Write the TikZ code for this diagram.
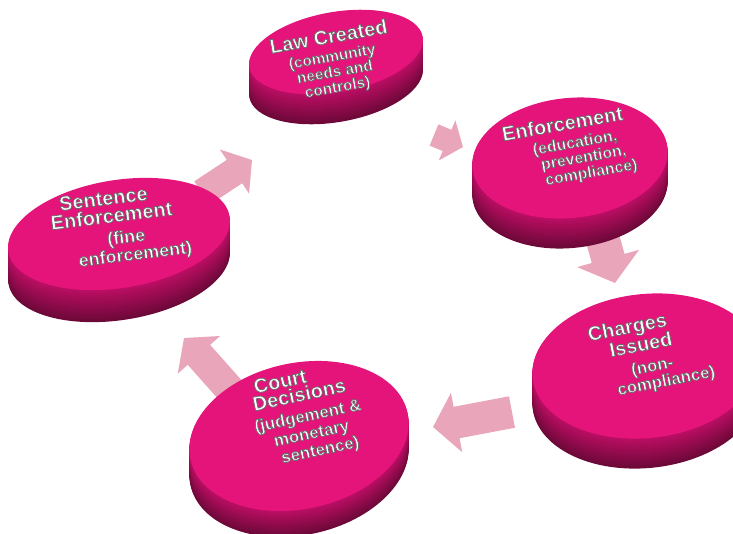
\documentclass[tikz,border=0pt]{standalone}
\usepackage{fontspec}
\setmainfont{Liberation Sans}
\usetikzlibrary{arrows.meta}

\definecolor{disctop}{RGB}{228,20,123}
\definecolor{discside}{RGB}{188,14,100}
\definecolor{discdark}{RGB}{108,8,56}
\definecolor{flowpink}{RGB}{233,165,186}

\pgfdeclarelayer{back}
\pgfsetlayers{back,main}

% white lettering with a grey rim (fill and stroke text mode)
\newcommand{\relief}[1]{\special{pdf:code q 2 Tr 0.75 w 1 j 0.42 G}#1\special{pdf:code Q}}
\newcommand{\headsize}{\fontsize{20}{20}\selectfont}

\begin{document}
\begin{tikzpicture}[
  x=1pt, y=-1pt,
  disctext/.style={text=white, align=center, inner sep=0pt, font=\bfseries\fontsize{#1}{#1}\selectfont},
  flow/.style={draw=flowpink, line width=#1, -{Triangle[width=0pt 1.85, length=0pt 0.75]}}
]
\useasboundingbox (0,0) rectangle (733,533);

% discs: centre x/y, radii, tilt, depth
\foreach \cx/\cy/\rx/\ry/\rot/\th in {336/52/88/40/10/30, 570/158/98/60/6/30,
    646/366/114/72/6/30, 299/436/111/73/12/26, 119/234/112/54/9/32}{
  \begin{scope}[shift={(\cx,\cy)}]
    \foreach \d in {\th,...,1}{
      \pgfmathtruncatemacro{\mixpct}{100*\d/\th}
      \fill[discdark!\mixpct!discside, shift={(0,\d)}, rotate=\rot] (0,0) ellipse [x radius=\rx pt, y radius=\ry pt];
    }
    \fill[disctop, rotate=\rot] (0,0) ellipse [x radius=\rx pt, y radius=\ry pt];
  \end{scope}
}

% labels on the discs
\node[disctext=15.5, rotate=10] (law) at (333,62) {{\headsize\relief{Law Created}}\\[3pt]\relief{(community}\\\relief{needs and}\\\relief{controls)}};
\node[disctext=16, rotate=10] (enf) at (567,150) {{\headsize\relief{Enforcement}}\\[3pt]\hspace*{18pt}\relief{(education,}\\\hspace*{30pt}\relief{prevention,}\\\hspace*{40pt}\relief{compliance)}};
\node[disctext=17, rotate=11] (chg) at (633,357) {{\headsize\relief{Charges}}\\\hspace*{20pt}{\headsize\relief{Issued}}\\[5pt]\hspace*{34pt}\relief{(non-}\\\hspace*{56pt}\relief{compliance)}};
\node[disctext=17, rotate=12] (court) at (288,419) {{\headsize\relief{Court}}\\\hspace*{32pt}{\headsize\relief{Decisions}}\\[4pt]\hspace*{40pt}\relief{(judgement \&}\\[1pt]\hspace*{40pt}\relief{monetary}\\[1pt]\hspace*{50pt}\relief{sentence)}};
\node[disctext=18, rotate=7] (sent) at (107,229) {{\headsize\relief{Sentence}}\\\hspace*{12pt}{\headsize\relief{Enforcement}}\\[4pt]\hspace*{36pt}\relief{(fine}\\\hspace*{50pt}\relief{enforcement)}};

% block arrows round the cycle, behind the discs
\begin{pgfonlayer}{back}
\draw[flow=28pt] ([shift={(95,-36)}]sent.center) -- ([shift={(-81,98)}]law.center);
\draw[flow=23pt] ([shift={(101,73)}]law.center) -- ([shift={(-104,-3)}]enf.center);
\draw[flow=34pt] ([shift={(36,90)}]enf.center) -- ([shift={(-18,-74)}]chg.center);
\draw[flow=32pt] ([shift={(-121,55)}]chg.center) -- ([shift={(145,8)}]court.center);
\draw[flow=30pt] ([shift={(-56,-27)}]court.center) -- ([shift={(77,109)}]sent.center);
\end{pgfonlayer}
\end{tikzpicture}
\end{document}
